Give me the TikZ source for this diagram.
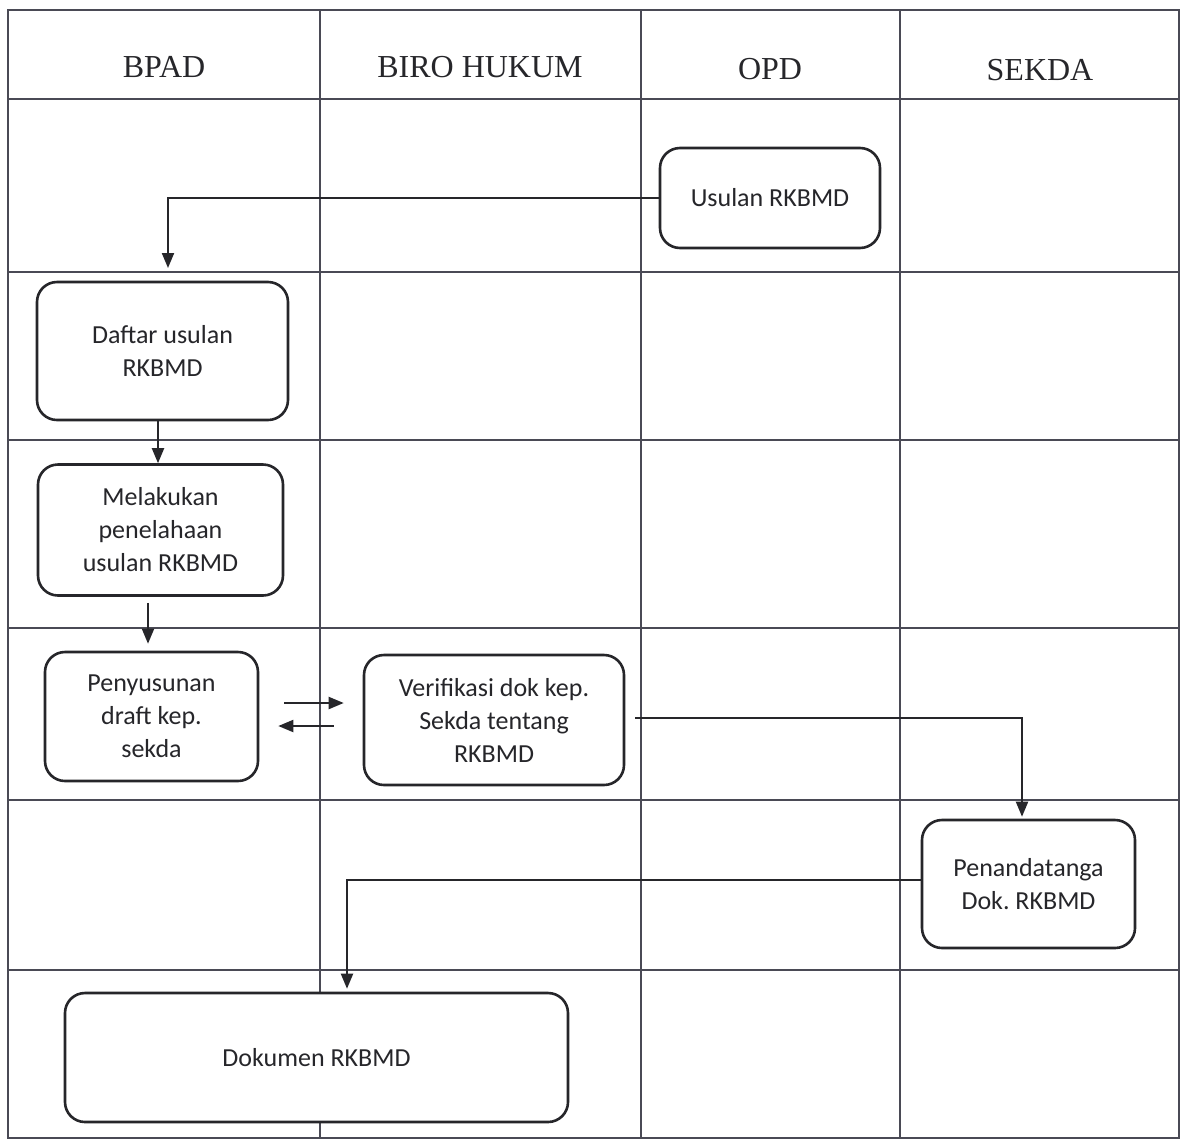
\documentclass[tikz,border=0pt]{standalone}
\usepackage{fontspec}
\setmainfont{Liberation Serif}
\newfontfamily\boxfont{Carlito}
\usetikzlibrary{arrows.meta}
\definecolor{ink}{HTML}{26262A}
\definecolor{gridc}{HTML}{4A4A55}
\frenchspacing
\tikzset{
  gridline/.style={draw=gridc, line width=0.6pt},
  header/.style={font=\fontsize{16}{19}\selectfont, text=ink},
  procbox/.style={draw=ink, fill=white, line width=1.3pt, rounded corners=10pt, align=center,
     inner sep=0pt, text=ink, font=\boxfont\fontsize{13}{16.5}\selectfont},
  conn/.style={draw=ink, line width=1pt, -{Triangle[length=7.5pt,width=6pt]}}
}
\begin{document}
\begin{tikzpicture}[x=0.5pt,y=-0.5pt]
\useasboundingbox (0,0) rectangle (1182,1141);
\fill[white] (0,0) rectangle (1182,1141);
% grid
\draw[gridline] (8,10) rectangle (1179,1138);
\foreach \xx in {320,641,900} \draw[gridline] (\xx,10) -- (\xx,1138);
\foreach \yy in {99,272,440,628,800,970} \draw[gridline] (8,\yy) -- (1179,\yy);
% headers
\node[header] (hbpad) at (164,67) {BPAD};
\node[header] (hbiro) at (480,67) {BIRO HUKUM};
\node[header] (hopd)  at (770,69) {OPD};
\node[header] (hsek)  at (1040,70) {SEKDA};
% boxes
\node[procbox, minimum width=110pt, minimum height=50pt] (usulan) at (770,198) {Usulan RKBMD};
\node[procbox, minimum width=125.5pt, minimum height=69pt] (daftar) at (162.5,351) {Daftar usulan\\RKBMD};
\node[procbox, minimum width=122.5pt, minimum height=65.5pt] (melakukan) at (160.5,530) {Melakukan\\penelahaan\\usulan RKBMD};
\node[procbox, minimum width=106.5pt, minimum height=64.5pt] (penyusunan) at (151.5,716.5) {Penyusunan\\draft kep.\\sekda};
\node[procbox, minimum width=130pt, minimum height=65pt] (verifikasi) at (494,720) {Verifikasi dok kep.\\Sekda tentang\\RKBMD};
\node[procbox, minimum width=106.5pt, minimum height=64pt] (penanda) at (1028.5,884) {Penandatanga\\Dok. RKBMD};
\node[procbox, minimum width=251.5pt, minimum height=64.5pt] (dokumen) at (316.5,1057.5) {Dokumen RKBMD};
% connectors
\coordinate (a1) at (168,268);
\draw[conn] (usulan.west) -| (a1);
\draw[conn] ([xshift=-2.25pt]daftar.south) -- ([xshift=-2.25pt]daftar.south |- melakukan.north);
\draw[conn] ([xshift=-1.75pt,yshift=-3pt]penyusunan.north |- melakukan.south) -- ([xshift=-1.75pt,yshift=3.5pt]penyusunan.north);
\draw[conn] ([shift={(12.5pt,6.75pt)}]penyusunan.east) -- ([shift={(-9.5pt,6.75pt)}]verifikasi.west |- penyusunan.east);
\draw[conn] ([shift={(-14.5pt,-4.75pt)}]verifikasi.west |- penyusunan.east) -- ([shift={(9.5pt,-4.75pt)}]penyusunan.east);
\draw[conn] ([xshift=5pt,yshift=1pt]verifikasi.east) -| ([xshift=-3.25pt,yshift=1pt]penanda.north);
\draw[conn] ([yshift=2pt]penanda.west) -| ([xshift=15.25pt,yshift=1.5pt]dokumen.north);
\end{tikzpicture}
\end{document}
